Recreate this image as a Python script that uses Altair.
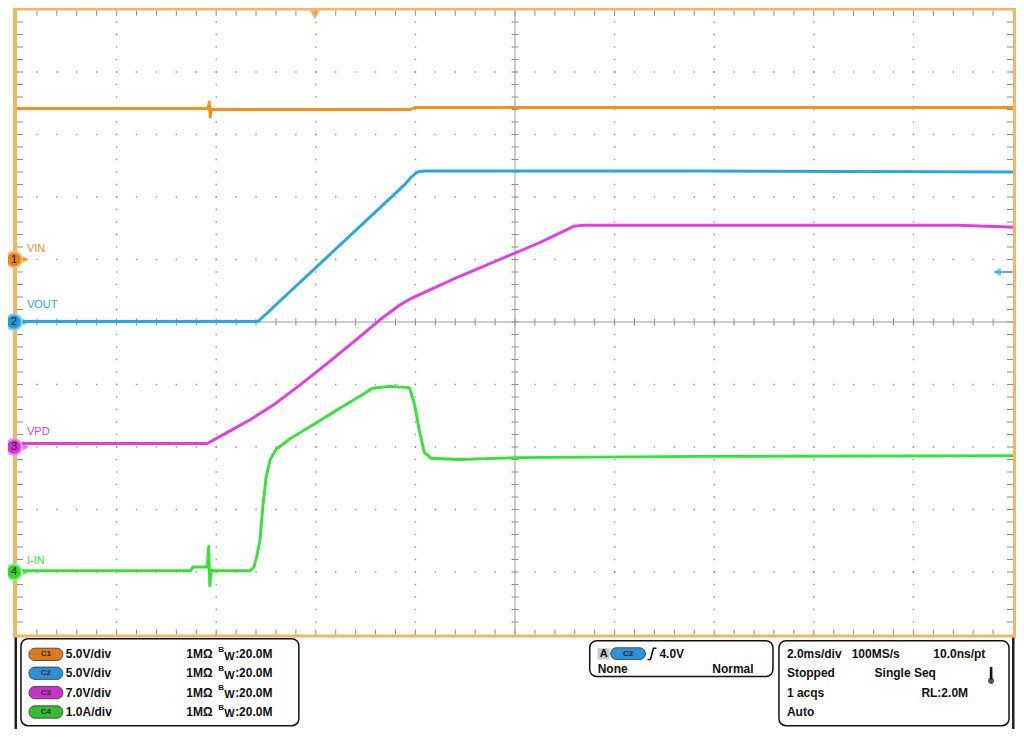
import altair as alt
import numpy as np
import pandas as pd

# ---------------- data ----------------
CHANNELS = ["VIN", "VOUT", "VPD", "I-IN"]
CH_NUM = ["1", "2", "3", "4"]
CH_COLORS = ["#F5901E", "#27A6E0", "#E23CE2", "#36E236"]
MARK_FILL = ["#E8801C", "#1E9BDA", "#D42ED4", "#2ED62E"]
MARK_RING = ["#F7B877", "#86CCF0", "#F08CF0", "#8CF08C"]
CH_SCALE = [5.0, 5.0, 7.0, 1.0]      # units / division
CH_OFFSET = [1, 0, -2, -4]           # ground marker position (divisions)
TIME_PER_DIV = 2.0                   # ms / div
TRIG_LEVEL = 4.0                     # V on C2

# time in ms relative to trigger, values in V / A
VIN_T = [-6.0, -2.16, -2.14, -2.12, -2.10, 1.90, 2.00, 14.06]
VIN_V = [12.08, 12.08, 12.6, 11.4, 12.0, 12.0, 12.16, 12.16]

VOUT_T = [-6.0, -1.16, 1.78, 1.92, 2.04, 2.18, 7.70, 14.06]
VOUT_V = [0.04, 0.04, 10.97, 11.6, 12.0, 12.08, 12.08, 12.0]

VPD_T = [-6.0, -2.18, -1.82, -1.32, -0.82, -0.32, 0.28, 0.88, 1.28, 1.68,
         1.92, 2.18, 2.88, 3.68, 4.48, 4.98, 5.18, 5.38, 12.88, 14.06]
VPD_V = [0.40, 0.40, 1.50, 3.05, 4.82, 6.92, 9.58, 12.34, 14.22, 15.88,
         16.65, 17.32, 19.09, 20.97, 22.85, 24.18, 24.73, 24.84, 24.84, 24.62]

IIN_T = [-6.0, -2.52, -2.46, -2.18, -2.15, -2.13, -2.10, -2.06, -1.32, -1.24,
         -1.18, -1.12, -1.06, -1.00, -0.92, -0.80, -0.52, 0.08, 0.48, 0.88,
         1.14, 1.48, 1.88, 1.98, 2.08, 2.18, 2.32, 2.88, 4.08, 7.68, 14.06]
IIN_A = [0.02, 0.02, 0.08, 0.08, 0.41, -0.22, 0.03, 0.02, 0.02, 0.08,
         0.27, 0.52, 1.07, 1.50, 1.79, 1.96, 2.13, 2.42, 2.62, 2.81,
         2.94, 2.97, 2.95, 2.69, 2.26, 1.91, 1.82, 1.80, 1.83, 1.85, 1.86]

PILLS = ["C1", "C2", "C3", "C4"]
VDIV = ["5.0V/div", "5.0V/div", "7.0V/div", "1.0A/div"]
COUPLING = "1MΩ"
BW = ":20.0M"
TRIG_TEXT = ["A", "C2", "4.0V", "None", "Normal"]
ACQ_TEXT = [["2.0ms/div", "100MS/s", "10.0ns/pt"],
            ["Stopped", "Single Seq"],
            ["1 acqs", "RL:2.0M"],
            ["Auto"]]

FONT = "Liberation Sans"

# ---------------- layout helpers (screen position -> data units) -------------
X_LO, X_HI = -6.1807, 14.060
Y_LO, Y_HI = -6.512, 5.024
XS = alt.Scale(domain=[X_LO, X_HI], nice=False, zero=False)
YS = alt.Scale(domain=[Y_LO, Y_HI], nice=False, zero=False)


def ax(xr):
    return (xr - 17) / 100 * TIME_PER_DIV - 6


def ay(yr):
    return (320 - yr) / 63.3


def py(yr):
    page = 634.5 + (yr - 636.5) * 0.945
    return 5 - (page - 9.5) / 62.5


def X(f):
    return alt.X(f, type="quantitative", scale=XS, axis=None)


def Y(f):
    return alt.Y(f, type="quantitative", scale=YS, axis=None)


def rects(rows, **kw):
    df = pd.DataFrame(rows, columns=["x", "x2", "y", "y2", "c"])
    return alt.Chart(df).mark_rect(**kw).encode(
        x=X("x"), x2="x2", y=Y("y"), y2="y2", color=alt.Color("c:N", scale=None))


def rules(rows, **kw):
    df = pd.DataFrame(rows, columns=["x", "x2", "y", "y2", "c"])
    return alt.Chart(df).mark_rule(**kw).encode(
        x=X("x"), x2="x2", y=Y("y"), y2="y2", color=alt.Color("c:N", scale=None))


def texts(rows, **kw):
    df = pd.DataFrame(rows, columns=["x", "y", "text", "size", "c"])
    return alt.Chart(df).mark_text(font=FONT, **kw).encode(
        x=X("x"), y=Y("y"), text="text:N", size=alt.Size("size:Q", scale=None),
        color=alt.Color("c:N", scale=None))


def points(rows, **kw):
    df = pd.DataFrame(rows, columns=["x", "y", "size", "c", "s"])
    return alt.Chart(df).mark_point(filled=True, **kw).encode(
        x=X("x"), y=Y("y"), size=alt.Size("size:Q", scale=None),
        fill=alt.Color("c:N", scale=None), stroke=alt.Color("s:N", scale=None))


layers = []

# ---------------- graticule ----------------
GRID = "#8c8c8c"
dots = []
for gx in [-4, -2, 0, 2, 6, 8, 10, 12]:
    for gy in np.arange(-5, 5.001, 0.2):
        dots.append((gx, gy))
for gy in [-4, -3, -2, -1, 1, 2, 3, 4]:
    for gx in np.arange(-6, 14.001, 0.4):
        dots.append((gx, gy))
dots_df = pd.DataFrame(dots, columns=["x", "y"])
layers.append(alt.Chart(dots_df).mark_square(size=2, color="#8f8f8f", opacity=0.9).encode(
    x=X("x"), y=Y("y")))

tick_rows = []
for tx in np.arange(-5.6, 14.0, 0.4):
    tick_rows.append((tx, tx, 4.984, 4.90, GRID))     # top frame
    tick_rows.append((tx, tx, -5.0, -4.92, GRID))     # bottom frame
    tick_rows.append((tx, tx, -0.056, 0.056, GRID))   # centre horizontal
for ty in np.arange(-4.8, 5.0, 0.2):
    tick_rows.append((-6.0, -5.88, ty, ty, GRID))     # left frame
    tick_rows.append((13.88, 14.0, ty, ty, GRID))     # right frame
    tick_rows.append((3.93, 4.07, ty, ty, GRID))      # centre vertical
tick_rows.append((-6.0, 14.0, 0, 0, "#9a9a9a"))
tick_rows.append((4.0, 4.0, -5, 5, "#9a9a9a"))
layers.append(rules(tick_rows, strokeWidth=1))

# ---------------- traces ----------------
tr = []
for name, ts, vs, i in [("VIN", VIN_T, VIN_V, 0), ("VOUT", VOUT_T, VOUT_V, 1),
                        ("VPD", VPD_T, VPD_V, 2), ("I-IN", IIN_T, IIN_A, 3)]:
    for k, (t, v) in enumerate(zip(ts, vs)):
        tr.append((name, k, t, v / CH_SCALE[i] + CH_OFFSET[i]))
tr_df = pd.DataFrame(tr, columns=["ch", "ord", "t", "div"])
layers.append(alt.Chart(tr_df).mark_line(strokeWidth=2.9, strokeJoin="round").encode(
    x=X("t"), y=Y("div"), order="ord:Q",
    color=alt.Color("ch:N", scale=alt.Scale(domain=CHANNELS, range=CH_COLORS), legend=None)))

# ---------------- frame ----------------
FRAME = "#F2B563"
layers.append(rects([
    (ax(13), ax(17), Y_HI, -5.048, FRAME),
    (ax(13), ax(1021), Y_HI, 4.984, FRAME),
    (ax(1017), ax(1021), Y_HI, -5.048, FRAME),
    (ax(13), ax(1021), -5.0, -5.048, FRAME),
    (ax(14.5), ax(17), -5.048, Y_LO, "#222222"),
    (ax(1016), ax(1018.5), -5.048, Y_LO, "#222222"),
]))

# ---------------- channel markers / labels ----------------
layers.append(rules([(ax(17), ax(27), CH_OFFSET[0], CH_OFFSET[0], CH_COLORS[0])], strokeWidth=1.6))
layers.append(points([(ax(26), CH_OFFSET[i], 45, CH_COLORS[i], CH_COLORS[i]) for i in range(4)],
                     shape="triangle-right", strokeWidth=0))
layers.append(points([(ax(14), CH_OFFSET[i], 240, MARK_FILL[i], MARK_RING[i]) for i in range(4)],
                     shape="circle", strokeWidth=2.2, opacity=1))
layers.append(texts([(ax(14), CH_OFFSET[i], CH_NUM[i], 11, "#1a1a1a") for i in range(4)],
                    align="center", baseline="middle"))
label_y = [246, 303, 431.5, 562]
layers.append(texts([(ax(27), ay(label_y[i]), CHANNELS[i], 11, CH_COLORS[i]) for i in range(4)],
                    align="left", baseline="middle"))

# trigger position and level
layers.append(points([(ax(316), ay(9.0), 100, CH_COLORS[0], CH_COLORS[0])],
                     shape="triangle-down", strokeWidth=0))
lvl = TRIG_LEVEL / CH_SCALE[1] + CH_OFFSET[1]
layers.append(rules([(ax(1000), ax(1016), lvl, lvl, CH_COLORS[1])], strokeWidth=1.6))
layers.append(points([(ax(1001), lvl, 70, CH_COLORS[1], CH_COLORS[1])],
                     shape="triangle-left", strokeWidth=0))

# ---------------- bottom panel ----------------
layers.append(rects([
    (ax(21), ax(300), py(641), py(733), "white"),
    (ax(592), ax(776), py(643), py(681), "white"),
    (ax(782), ax(1013), py(643), py(733), "white"),
], cornerRadius=7, stroke="#111111", strokeWidth=1.5))

ROWS = [657.5, 677.5, 698, 718.5]
PILL_FILL = ["#DC7A22", "#2B93D4", "#C734C7", "#33BE33"]
pill_rows = []
for i in range(4):
    pill_rows.append((ax(29), ax(63), py(ROWS[i] - 6.5), py(ROWS[i] + 6.5), PILL_FILL[i]))
pill_rows.append((ax(613), ax(648), py(650.5), py(663), PILL_FILL[1]))
layers.append(rects(pill_rows, cornerRadius=6, stroke="#333333", strokeWidth=0.8))
layers.append(rects([(ax(600), ax(612), py(651), py(663), "#C8C8C8")]))

pill_txt = [(ax(46), py(ROWS[i]), PILLS[i], 8, "#2a2a2a") for i in range(4)]
pill_txt.append((ax(630.5), py(657), TRIG_TEXT[1], 8, "#1a1a1a"))
pill_txt.append((ax(606), py(657), TRIG_TEXT[0], 11, "#111111"))
layers.append(texts(pill_txt, align="center", baseline="middle", fontWeight="bold"))

bold_rows = []
for i in range(4):
    r = ROWS[i]
    bold_rows.append((ax(66), py(r), VDIV[i], 12, "#111111"))
    bold_rows.append((ax(187), py(r), COUPLING, 12, "#111111"))
    bold_rows.append((ax(225), py(r + 2.5), "W", 11, "#111111"))
    bold_rows.append((ax(236), py(r), BW, 12, "#111111"))
    bold_rows.append((ax(219), py(r - 4.5), "B", 8, "#111111"))
bold_rows.append((ax(662), py(657), TRIG_TEXT[2], 12, "#111111"))
bold_rows.append((ax(600), py(673.5), TRIG_TEXT[3], 12, "#111111"))
bold_rows.append((ax(715), py(673.5), TRIG_TEXT[4], 12, "#111111"))
acq_x = [[790, 855, 937], [790, 878], [790, 925], [790]]
for r, (labels, xs) in enumerate(zip(ACQ_TEXT, acq_x)):
    for lab, xx in zip(labels, xs):
        bold_rows.append((ax(xx), py(ROWS[r]), lab, 12, "#111111"))
layers.append(texts(bold_rows, align="left", baseline="middle", fontWeight="bold"))

# rising-edge glyph
edge_df = pd.DataFrame({"x": [ax(650), ax(653), ax(656), ax(659)],
                        "y": [py(663), py(663), py(651), py(651)],
                        "o": [0, 1, 2, 3]})
layers.append(alt.Chart(edge_df).mark_line(color="#111111", strokeWidth=1.6).encode(
    x=X("x"), y=Y("y"), order="o:Q"))

# thermometer glyph
layers.append(rules([(ax(995), ax(995), py(671), py(684), "#111111")], strokeWidth=2.6))
layers.append(points([(ax(995), py(685.5), 38, "#111111", "#111111")], shape="circle", strokeWidth=0))

chart = alt.layer(*layers).properties(
    width=1008, height=721, padding=0,
    autosize=alt.AutoSizeParams(type="none"),
    background="white",
).configure_view(stroke=None)

chart.save("out.html", embed_options={"renderer": "svg", "actions": False})
